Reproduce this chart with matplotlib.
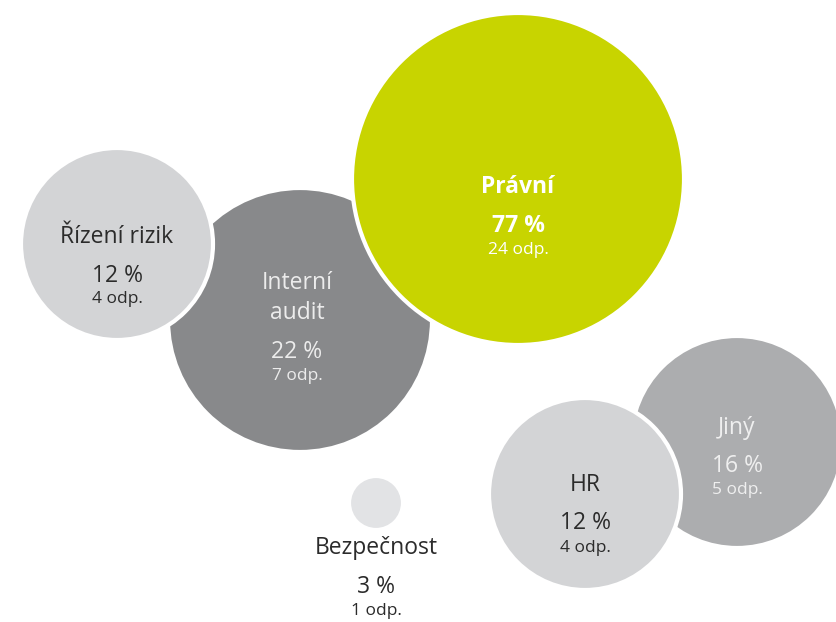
import matplotlib
matplotlib.use("Agg")
import matplotlib.pyplot as plt
from matplotlib.patches import Circle

# data
labels = ["Řízení rizik", "Interní\naudit", "Právní", "Jiný", "HR", "Bezpečnost"]
percents = [12, 22, 77, 16, 12, 3]
answers = [4, 7, 24, 5, 4, 1]

# layout (pixel space of the 836x622 canvas)
cx = [117, 300, 518, 737, 585, 376]
cy = [244, 320, 179, 442, 494, 503]
radius = [96, 132, 166, 106, 96, 27]
tx = [117, 297, 518, 737, 585, 376]
label_y = [237, 298, 187, 428, 485, 548]
pct_y = [276, 352, 226, 466, 523, 587]
odp_y = [299, 376, 250, 490, 548, 611]
fills = ["#d3d4d6", "#88898b", "#c8d400", "#acadaf", "#d3d4d6", "#e2e3e5"]
text_cols = ["#2b2b2b", "#ececec", "#ffffff", "#efefef", "#2b2b2b", "#2b2b2b"]
draw_order = [1, 0, 2, 3, 4, 5]

plt.rcParams["font.family"] = ["Open Sans", "DejaVu Sans"]

fig = plt.figure(figsize=(8.36, 6.22), dpi=100)
ax = fig.add_axes([0, 0, 1, 1])
ax.set_xlim(0, 836)
ax.set_ylim(622, 0)
ax.set_aspect("equal")
ax.axis("off")

for z, i in enumerate(draw_order):
    ax.add_patch(Circle((cx[i], cy[i]), radius[i], facecolor=fills[i],
                        edgecolor="white", linewidth=3, zorder=z + 1))

for i in range(len(labels)):
    w = "bold" if labels[i] == "Právní" else "normal"
    ax.text(tx[i], label_y[i], labels[i], ha="center", va="center", fontsize=16.5,
            color=text_cols[i], fontweight=w, linespacing=1.35, zorder=20)
    ax.text(tx[i], pct_y[i], f"{percents[i]} %", ha="center", va="center",
            fontsize=16.5, color=text_cols[i], fontweight=w, zorder=20)
    ax.text(tx[i], odp_y[i], f"{answers[i]} odp.", ha="center", va="center",
            fontsize=12.5, color=text_cols[i], zorder=20)

fig.savefig("out.png", dpi=100)
